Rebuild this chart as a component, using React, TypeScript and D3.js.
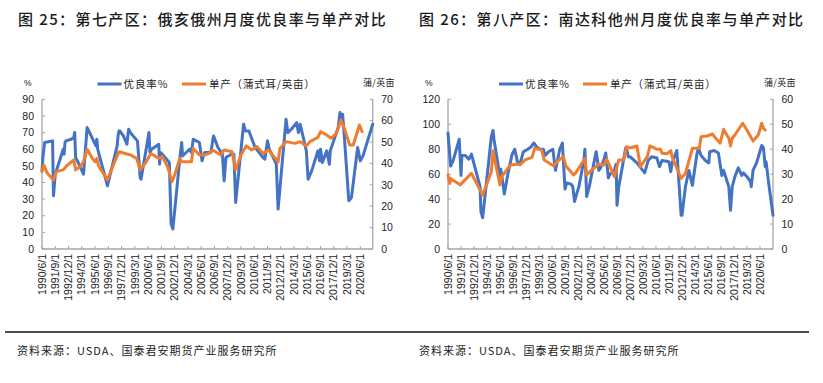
import React from 'react';
import * as d3 from 'd3';

const parseM = d3.timeParse('%Y-%m');
const parseTick = d3.timeParse('%Y/%m/%d');

const xTickLabels = ["1990/6/1","1991/9/1","1992/12/1","1994/3/1","1995/6/1","1996/9/1","1997/12/1","1999/3/1","2000/6/1","2001/9/1","2002/12/1","2004/3/1","2005/6/1","2006/9/1","2007/12/1","2009/3/1","2010/6/1","2011/9/1","2012/12/1","2014/3/1","2015/6/1","2016/9/1","2017/12/1","2019/3/1","2020/6/1"];

const leftYTicks = [0,10,20,30,40,50,60,70,80,90];
const leftY2Ticks = [0,10,20,30,40,50,60,70];
const rightYTicks = [0,20,40,60,80,100,120];
const rightY2Ticks = [0,10,20,30,40,50,60];

// Chart 25 — Ohio condition rate (%)
const ohioRateDates = ["1990-06","1990-07","1990-09","1991-06","1991-07","1991-09","1992-06","1992-07","1992-08","1992-09","1993-03","1993-06","1993-07","1993-08","1993-10","1994-05","1994-09","1994-10","1995-07","1995-08","1995-09","1995-10","1996-07","1996-08","1997-07","1997-08","1997-09","1997-10","1998-02","1998-06","1998-08","1998-10","1999-01","1999-06","1999-09","1999-10","2000-07","2000-08","2000-10","2001-06","2001-07","2001-08","2001-10","2002-06","2002-08","2002-10","2003-06","2003-08","2003-09","2004-01","2004-05","2004-07","2004-09","2005-04","2005-07","2005-08","2005-10","2006-05","2006-07","2006-08","2007-01","2007-06","2007-08","2007-10","2008-04","2008-07","2008-09","2009-06","2009-08","2009-12","2010-07","2011-04","2011-06","2011-09","2011-11","2012-07","2012-09","2013-06","2013-08","2013-12","2014-06","2014-08","2014-10","2015-05","2015-07","2015-11","2016-06","2016-08","2016-09","2016-11","2017-04","2017-07","2017-08","2018-05","2018-07","2018-09","2018-10","2018-12","2019-05","2019-08","2020-03","2020-06","2020-09","2021-08"];
const ohioRateValues = [47,55,64,65,32,45,60,57,64,65,66,67,70,55,53,45,73,72,62,66,60,58,40,38,62,68,71,71,68,63,72,70,68,65,43,42,70,58,60,63,51,58,57,52,15,12,55,64,56,58,60,58,66,64,53,55,58,58,65,68,61,57,41,55,57,57,28,75,71,71,61,55,54,65,60,51,24,78,70,72,76,70,75,59,42,47,59,53,60,52,59,51,59,73,82,79,81,67,29,31,61,53,56,75];

// Chart 25 — Ohio yield (bu/acre)
const ohioYieldDates = ["1990-06","1990-08","1990-12","1991-07","1991-10","1992-06","1992-09","1993-01","1993-06","1993-08","1994-01","1994-05","1994-09","1995-03","1995-06","1995-08","1995-10","1996-08","1997-05","1997-09","1998-06","1998-10","1999-05","1999-09","2000-04","2000-09","2001-03","2001-06","2001-10","2002-04","2002-09","2002-12","2003-06","2003-08","2004-07","2004-09","2005-04","2005-10","2006-03","2006-07","2007-04","2007-08","2008-05","2008-09","2009-03","2009-09","2010-03","2010-09","2011-04","2011-10","2012-09","2012-11","2013-06","2014-04","2014-10","2015-05","2015-09","2016-06","2016-09","2017-04","2017-09","2018-03","2018-08","2018-12","2019-06","2019-10","2020-05","2020-08"];
const ohioYieldValues = [36.2,39.3,35.4,32.3,36.2,37,38.5,40,41.6,37,38.5,40.8,46.6,42.4,40.8,42.4,38.8,32.3,41.6,45.5,44.4,44,42.4,37,40.8,44.7,43.2,42.4,43.2,38.5,31.5,34.6,42.4,40.8,40.8,47,44,44,44.7,46.3,44,46.3,45.5,37,44,48.2,46.3,47.9,44.7,46.3,40.8,47,50.2,49.4,50.2,48.2,50.2,52.2,54.9,53.3,51.8,54.1,60.3,56.4,48.6,48.6,58,54.9];

// Chart 26 — South Dakota condition rate (%)
const sdRateDates = ["1990-06","1990-09","1990-12","1991-07","1991-09","1991-10","1992-02","1992-06","1992-09","1993-07","1993-08","1993-10","1994-08","1994-10","1994-11","1995-06","1995-07","1995-11","1996-03","1996-08","1996-11","1997-02","1997-05","1997-09","1998-02","1998-06","1998-09","1998-12","1999-04","1999-08","1999-10","2000-02","2000-07","2000-10","2000-12","2001-03","2001-06","2001-09","2001-11","2002-04","2002-06","2002-08","2002-10","2003-01","2003-07","2003-08","2003-10","2004-01","2004-08","2004-09","2004-12","2005-02","2005-06","2005-08","2005-11","2006-01","2006-06","2006-08","2006-09","2006-11","2007-03","2007-07","2007-08","2007-10","2007-12","2008-08","2009-05","2009-09","2010-01","2010-07","2010-10","2011-01","2011-09","2011-11","2012-01","2012-06","2012-11","2012-12","2013-04","2013-08","2013-12","2014-05","2014-07","2014-10","2015-03","2015-07","2015-08","2016-01","2016-06","2016-10","2016-12","2017-06","2017-08","2017-10","2018-01","2018-05","2018-09","2018-11","2019-03","2019-07","2019-08","2019-10","2020-02","2020-08","2020-10","2020-12","2021-01","2021-04","2021-09"];
const sdRateValues = [93,66.5,71,88,59,75,75,72,76,50,30,25,90,95,88,58,64,44,60,76,80,70,68,78,80,82,85,82,80,80,75,78,80,63,70,80,85,48,53,52,50,38,43,50,72,80,42,50,75,78,63,65,72,77,57,60,63,68,35,50,65,81,81,74,74,69,61,71,74,73,66,71,70,62,70,79,27,27,50,63,51,75,81,75,71,69,78,79,77,59,63,50,31,50,58,65,59,61,58,54,50,63,69,83,81,66,70,53,27];

// Chart 26 — South Dakota yield (bu/acre)
const sdYieldDates = ["1990-06","1990-08","1990-09","1991-08","1992-09","1993-10","1994-08","1994-10","1994-12","1995-06","1995-08","1996-06","1997-02","1997-05","1997-11","1998-07","1998-10","1999-06","1999-09","2000-08","2000-12","2001-07","2001-10","2002-07","2002-09","2003-08","2003-10","2004-04","2004-12","2005-06","2005-09","2006-06","2006-11","2007-05","2007-08","2007-12","2008-08","2008-12","2009-08","2009-11","2010-07","2010-11","2011-01","2011-07","2011-11","2012-01","2012-11","2013-04","2013-12","2014-08","2014-10","2015-05","2015-11","2016-03","2016-08","2016-12","2017-06","2017-08","2017-10","2018-01","2018-10","2019-03","2019-10","2020-04","2020-08","2020-10","2020-12"];
const sdYieldValues = [29.7,26.3,28.3,25.7,30.3,21.6,31,39.4,35.7,25.7,29,33.7,34,33.7,35.7,36.7,40.4,39.7,35.7,33.3,35,37,33.3,29.7,30.3,36.3,29.7,31.7,34,33.7,36,29,35.7,35.7,41,40.5,41.3,33,37,41.3,40,40,38.4,38.2,39.4,36.5,28.3,30.3,40.4,40.4,45,45.3,46.1,44.4,42.4,48,44.4,41.3,44.4,45.7,50.4,47.7,43.3,45.7,50.4,48.4,47.7];

const BLUE = '#4472C4';
const ORANGE = '#ED7D31';
const AXIS = '#A6A6A6';
const CJK = '"Noto Sans CJK SC", "Noto Sans", sans-serif';
const NUM = '"Liberation Sans", Arial, sans-serif';

type Pt = { d: Date; v: number };
const zip = (ds: string[], vs: number[]): Pt[] => ds.map((s, i) => ({ d: parseM(s) as Date, v: vs[i] }));

interface ChartProps {
  x0: number; x1: number; top: number; bottom: number;
  start: string; end: string;
  yTicks: number[]; y2Ticks: number[];
  rate: Pt[]; yld: Pt[];
  title: string; titleX: number;
  legendX: number; legend2X: number;
  pctX: number; unitX: number;
}

function Chart(p: ChartProps) {
  const x = d3.scaleTime().domain([parseM(p.start) as Date, parseM(p.end) as Date]).range([p.x0, p.x1]);
  const y = d3.scaleLinear().domain([0, d3.max(p.yTicks) as number]).range([p.bottom, p.top]);
  const y2 = d3.scaleLinear().domain([0, d3.max(p.y2Ticks) as number]).range([p.bottom, p.top]);
  const line1 = d3.line<Pt>().x(d => x(d.d)).y(d => y(d.v));
  const line2 = d3.line<Pt>().x(d => x(d.d)).y(d => y2(d.v));
  const ticks = xTickLabels.map(t => ({ t, d: parseTick(t) as Date }));
  return (
    <g>
      <text x={p.titleX} y={25} fontFamily={CJK} fontSize={15} fontWeight={500} fill="#1a1a1a" letterSpacing={1.4}>{p.title}</text>
      {/* legend */}
      <line x1={p.legendX} x2={p.legendX + 24} y1={84} y2={84} stroke={BLUE} strokeWidth={3} />
      <text x={p.legendX + 26} y={87.5} fontFamily={CJK} fontSize={10.5} fill="#222" letterSpacing={0.9}>优良率%</text>
      <line x1={p.legend2X} x2={p.legend2X + 24} y1={84} y2={84} stroke={ORANGE} strokeWidth={3} />
      <text x={p.legend2X + 27} y={87.5} fontFamily={CJK} fontSize={10.5} fill="#222" letterSpacing={0.8}>单产（蒲式耳/英亩）</text>
      {/* units */}
      <text x={p.pctX} y={86} fontFamily={NUM} fontSize={8.5} fill="#222">%</text>
      <text x={p.unitX} y={86} fontFamily={CJK} fontSize={9} fill="#222" letterSpacing={0.3}>蒲/英亩</text>
      {/* axes */}
      <line x1={p.x0} x2={p.x0} y1={p.top} y2={p.bottom} stroke={AXIS} strokeWidth={1.3} />
      <line x1={p.x1} x2={p.x1} y1={p.top} y2={p.bottom} stroke={AXIS} strokeWidth={1.3} />
      <line x1={p.x0} x2={p.x1} y1={p.bottom} y2={p.bottom} stroke={AXIS} strokeWidth={1.3} />
      {p.yTicks.map(t => (
        <g key={'l' + t}>
          <line x1={p.x0} x2={p.x0 + 3} y1={y(t)} y2={y(t)} stroke={AXIS} strokeWidth={1} />
          <text x={p.x0 - 8} y={y(t)} dy="0.35em" textAnchor="end" fontFamily={NUM} fontSize={10.5} fill="#222">{t}</text>
        </g>
      ))}
      {p.y2Ticks.map(t => (
        <g key={'r' + t}>
          <line x1={p.x1 - 3} x2={p.x1} y1={y2(t)} y2={y2(t)} stroke={AXIS} strokeWidth={1} />
          <text x={p.x1 + 8.5} y={y2(t)} dy="0.35em" textAnchor="start" fontFamily={NUM} fontSize={10.5} fill="#222">{t}</text>
        </g>
      ))}
      {ticks.map(({ t, d }) => (
        <g key={t}>
          <line x1={x(d)} x2={x(d)} y1={p.bottom - 3} y2={p.bottom} stroke={AXIS} strokeWidth={1} />
          <text transform={`translate(${x(d)},${p.bottom + 5}) rotate(-90)`} dy="0.35em" textAnchor="end" fontFamily={NUM} fontSize={10.5} fill="#222">{t}</text>
        </g>
      ))}
      <path d={line1(p.rate) || ''} fill="none" stroke={BLUE} strokeWidth={3} strokeLinejoin="round" strokeLinecap="round" />
      <path d={line2(p.yld) || ''} fill="none" stroke={ORANGE} strokeWidth={3} strokeLinejoin="round" strokeLinecap="round" />
    </g>
  );
}

export default function App() {
  return (
    <svg width={823} height={383} style={{ position: 'absolute', left: 0, top: 0, display: 'block' }}>
      <rect x={0} y={0} width={823} height={383} fill="#fff" />
      <Chart x0={42} x1={372.7} top={99.3} bottom={249} start="1990-06" end="2021-08"
        yTicks={leftYTicks} y2Ticks={leftY2Ticks}
        rate={zip(ohioRateDates, ohioRateValues)} yld={zip(ohioYieldDates, ohioYieldValues)}
        title="图 25：第七产区：俄亥俄州月度优良率与单产对比" titleX={18}
        legendX={97.5} legend2X={182} pctX={24} unitX={363} />
      <Chart x0={448} x1={773} top={99.3} bottom={249} start="1990-06" end="2021-09"
        yTicks={rightYTicks} y2Ticks={rightY2Ticks}
        rate={zip(sdRateDates, sdRateValues)} yld={zip(sdYieldDates, sdYieldValues)}
        title="图 26：第八产区：南达科他州月度优良率与单产对比" titleX={419}
        legendX={499} legend2X={583} pctX={425} unitX={764} />
      <line x1={5} x2={809} y1={332} y2={332} stroke="#111" strokeWidth={1.5} />
      <text x={17} y={355} fontFamily={CJK} fontSize={11} fill="#222" letterSpacing={1}>资料来源：USDA、国泰君安期货产业服务研究所</text>
      <text x={419} y={355} fontFamily={CJK} fontSize={11} fill="#222" letterSpacing={1}>资料来源：USDA、国泰君安期货产业服务研究所</text>
    </svg>
  );
}
